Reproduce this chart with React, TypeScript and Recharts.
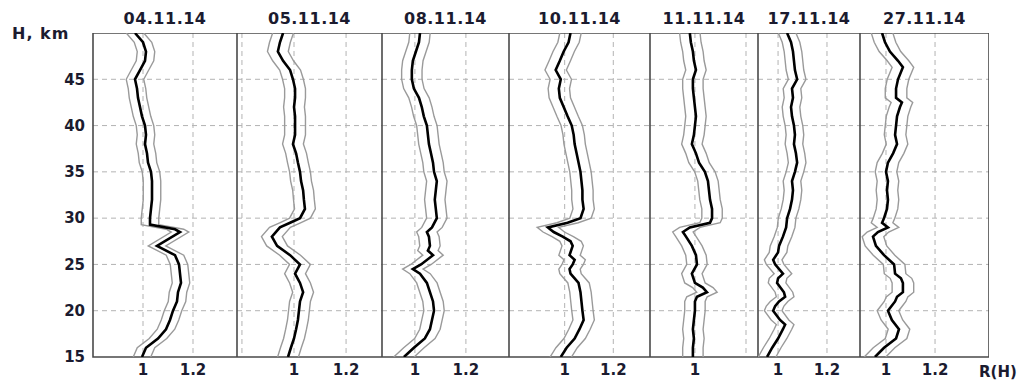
import React from "react"
import { CartesianGrid, Line, LineChart, ReferenceArea, XAxis, YAxis } from "recharts"

// R(H) profiles, one per date; heights in km
const titles = ["04.11.14", "05.11.14", "08.11.14", "10.11.14", "11.11.14", "17.11.14", "27.11.14"]

const h04 = [15, 16, 17, 18, 19, 20, 21, 22, 23, 24, 25, 26, 27, 28.5, 28.8, 29.3, 30, 31, 32, 33, 34, 35, 36, 37, 38, 39, 40, 41, 42, 43, 44, 45, 46, 47, 48, 49, 50]
const r04 = [0.996, 1.012, 1.06, 1.092, 1.108, 1.12, 1.136, 1.14, 1.152, 1.148, 1.144, 1.128, 1.056, 1.148, 1.128, 1.028, 1.028, 1.032, 1.036, 1.036, 1.036, 1.032, 1.02, 1.016, 1.008, 1.012, 1.008, 0.996, 0.988, 0.98, 0.976, 0.968, 0.988, 1.008, 1.012, 1.0, 0.968]

const h05 = [15, 16, 17, 18, 19, 20, 21, 22, 23, 24, 25, 26, 27, 28, 29, 29.5, 30, 31, 32, 33, 34, 35, 36, 37, 38, 39, 40, 41, 42, 43, 44, 45, 46, 47, 48, 49, 50]
const r05 = [0.977, 0.988, 1.0, 1.008, 1.015, 1.019, 1.023, 1.035, 1.023, 1.004, 1.023, 0.985, 0.935, 0.915, 0.946, 0.985, 1.023, 1.042, 1.038, 1.035, 1.027, 1.023, 1.015, 1.008, 0.996, 1.004, 1.004, 1.004, 1.0, 1.004, 1.004, 0.996, 0.985, 0.958, 0.938, 0.946, 0.958]

const h08 = [15, 16, 17, 18, 19, 20, 21, 22, 23, 24, 24.5, 25, 26, 26.5, 27, 28, 28.5, 29, 30, 31, 32, 33, 34, 35, 36, 37, 38, 39, 40, 41, 42, 43, 44, 45, 46, 47, 48, 49, 50]
const r08 = [0.957, 0.996, 1.039, 1.059, 1.067, 1.075, 1.071, 1.059, 1.047, 1.02, 0.992, 1.024, 1.071, 1.051, 1.059, 1.055, 1.047, 1.067, 1.086, 1.082, 1.078, 1.082, 1.086, 1.075, 1.071, 1.063, 1.055, 1.051, 1.047, 1.035, 1.027, 1.016, 0.996, 0.988, 0.988, 0.992, 1.004, 1.016, 1.02]

const h10 = [15, 16, 17, 18, 19, 20, 21, 22, 23, 24, 24.5, 25, 25.5, 26, 27, 27.5, 28, 28.5, 29, 29.5, 30, 31, 32, 33, 34, 35, 36, 37, 38, 39, 40, 41, 42, 43, 44, 45, 46, 47, 48, 49, 50]
const r10 = [0.984, 1.008, 1.041, 1.061, 1.078, 1.073, 1.069, 1.065, 1.057, 1.024, 1.02, 1.033, 1.041, 1.02, 1.033, 1.024, 0.992, 0.955, 0.931, 1.012, 1.065, 1.078, 1.073, 1.073, 1.069, 1.065, 1.057, 1.049, 1.041, 1.037, 1.029, 1.012, 0.996, 0.98, 0.976, 0.984, 0.963, 0.98, 0.996, 1.016, 1.024]

const h11 = [15, 16, 17, 18, 19, 20, 21, 21.5, 22, 22.5, 23, 24, 25, 26, 27, 28, 28.5, 29, 29.5, 30, 31, 32, 33, 34, 35, 36, 37, 38, 39, 40, 41, 42, 43, 44, 45, 46, 47, 48, 49, 50]
const r11 = [0.992, 0.992, 0.996, 0.992, 0.996, 1.0, 1.0, 1.008, 1.047, 1.031, 1.0, 0.988, 1.008, 1.004, 0.988, 0.965, 0.953, 0.98, 1.059, 1.067, 1.067, 1.059, 1.055, 1.051, 1.039, 1.016, 1.004, 0.988, 0.996, 1.0, 1.004, 1.0, 0.996, 0.992, 0.992, 1.004, 0.996, 0.992, 0.984, 0.98]

const h17 = [15, 16, 17, 18, 18.5, 19, 20, 20.5, 21, 21.5, 22, 23, 23.5, 24, 25, 25.5, 26.3, 27, 28, 29, 30, 31, 32, 33, 34, 35, 36, 37, 38, 39, 40, 41, 42, 43, 44, 45, 46, 47, 48, 49, 50]
const r17 = [0.955, 0.976, 1.0, 1.02, 1.029, 1.008, 0.98, 0.988, 1.004, 1.029, 1.024, 0.996, 1.0, 1.02, 0.988, 0.98, 1.0, 1.004, 1.02, 1.033, 1.037, 1.049, 1.057, 1.061, 1.057, 1.069, 1.078, 1.073, 1.065, 1.069, 1.065, 1.057, 1.053, 1.061, 1.057, 1.078, 1.069, 1.065, 1.061, 1.053, 1.037]

const h27 = [15, 16, 17, 18, 19, 20, 21, 21.5, 22, 23, 23.5, 24, 25, 26, 27, 28, 28.5, 29, 29.5, 30, 31, 32, 33, 34, 35, 36, 37, 38, 39, 40, 41, 42, 42.5, 43, 44, 45, 46.3, 47, 48, 49, 50]
const r27 = [0.955, 0.992, 1.041, 1.053, 1.024, 1.008, 1.037, 1.045, 1.069, 1.069, 1.061, 1.037, 1.033, 0.992, 0.959, 0.947, 0.967, 1.008, 0.984, 0.992, 1.004, 1.008, 1.004, 1.008, 1.0, 1.008, 1.029, 1.045, 1.037, 1.041, 1.045, 1.057, 1.065, 1.041, 1.041, 1.049, 1.069, 1.049, 1.016, 0.996, 0.984]

// half-width of the grey error band per panel
const errs = [0.035, 0.04, 0.04, 0.044, 0.04, 0.036, 0.044]

const heights = [h04, h05, h08, h10, h11, h17, h27]
const values = [r04, r05, r08, r10, r11, r17, r27]
const xTicks = [[1, 1.2], [1, 1.2], [1, 1.2], [1, 1.2], [1], [1, 1.2], [1, 1.2]]
const xGrid = [[1, 1.2], [0.8, 1, 1.2], [1, 1.2], [1, 1.2], [1, 1.2], [1, 1.2], [1, 1.2]]
const hTicks = [15, 20, 25, 30, 35, 40, 45]

// layout (pixels) and axis ranges
const edges = [93, 237, 382, 509, 650, 758, 860, 989]
const domains = [
  [0.8, 1.376],
  [0.781, 1.338],
  [0.871, 1.369],
  [0.771, 1.351],
  [0.824, 1.247],
  [0.918, 1.335],
  [0.894, 1.42],
]
const PLOT_TOP = 33
const PLOT_BOTTOM = 357
const AXIS_H = 30

const ink = "#1b1b2f"
const font = "'DejaVu Sans', sans-serif"
const tickStyle = { fill: ink, fontSize: 15, fontWeight: "bold", fontFamily: font }

function Panel({ i }: { i: number }) {
  const yw = i === 0 ? edges[0] : 0
  const width = edges[i + 1] - edges[i] + yw
  const data = heights[i].map((h, k) => ({
    h,
    r: values[i][k],
    lo: values[i][k] - errs[i],
    hi: values[i][k] + errs[i],
  }))
  const [x0, x1] = domains[i]

  return (
    <div style={{ position: "absolute", left: edges[i] - yw, top: PLOT_TOP }}>
      <LineChart
        layout="vertical"
        width={width}
        height={PLOT_BOTTOM - PLOT_TOP + AXIS_H}
        data={data}
        margin={{ top: 0, right: 0, bottom: 0, left: 0 }}
      >
        <CartesianGrid
          stroke="#b3b3b3"
          strokeDasharray="5 4"
          horizontalValues={[20, 25, 30, 35, 40, 45]}
          verticalValues={xGrid[i]}
        />
        <XAxis
          type="number"
          domain={[x0, x1]}
          allowDataOverflow
          ticks={xTicks[i]}
          tickFormatter={(v) => `${v}`}
          axisLine={false}
          tickLine={false}
          tickSize={0}
          tickMargin={7}
          height={AXIS_H}
          tick={tickStyle}
          interval={0}
        />
        <YAxis
          type="number"
          dataKey="h"
          domain={[15, 50]}
          reversed
          allowDataOverflow
          ticks={hTicks}
          hide={i !== 0}
          width={yw}
          axisLine={false}
          tickLine={false}
          tickSize={0}
          tickMargin={8}
          tick={tickStyle}
          interval={0}
        />
        <ReferenceArea x1={x0} x2={x1} y1={15} y2={50} fill="none" stroke="#4a4a4a" strokeWidth={1.6} />
        <Line dataKey="lo" stroke="#9a9a9a" strokeWidth={1.4} dot={false} isAnimationActive={false} />
        <Line dataKey="hi" stroke="#9a9a9a" strokeWidth={1.4} dot={false} isAnimationActive={false} />
        <Line dataKey="r" stroke="#000000" strokeWidth={2.6} dot={false} isAnimationActive={false} />
      </LineChart>
    </div>
  )
}

export default function App() {
  const label = { position: "absolute" as const, color: ink, fontFamily: font, fontWeight: "bold" as const }
  return (
    <div style={{ position: "absolute", left: 0, top: 0, width: 1020, height: 387, background: "#fff", overflow: "hidden" }}>
      {titles.map((t, i) => (
        <div
          key={t}
          style={{
            ...label,
            left: edges[i],
            width: edges[i + 1] - edges[i],
            top: 10,
            lineHeight: "18px",
            fontSize: 16,
            letterSpacing: 0.5,
            textAlign: "center",
          }}
        >
          {t}
        </div>
      ))}
      <div style={{ ...label, left: 12, top: 25, lineHeight: "18px", fontSize: 16, letterSpacing: 1 }}>H, km</div>
      <div style={{ ...label, left: 979, top: 363, lineHeight: "18px", fontSize: 15 }}>R(H)</div>
      {titles.map((t, i) => (
        <Panel key={t} i={i} />
      ))}
    </div>
  )
}
